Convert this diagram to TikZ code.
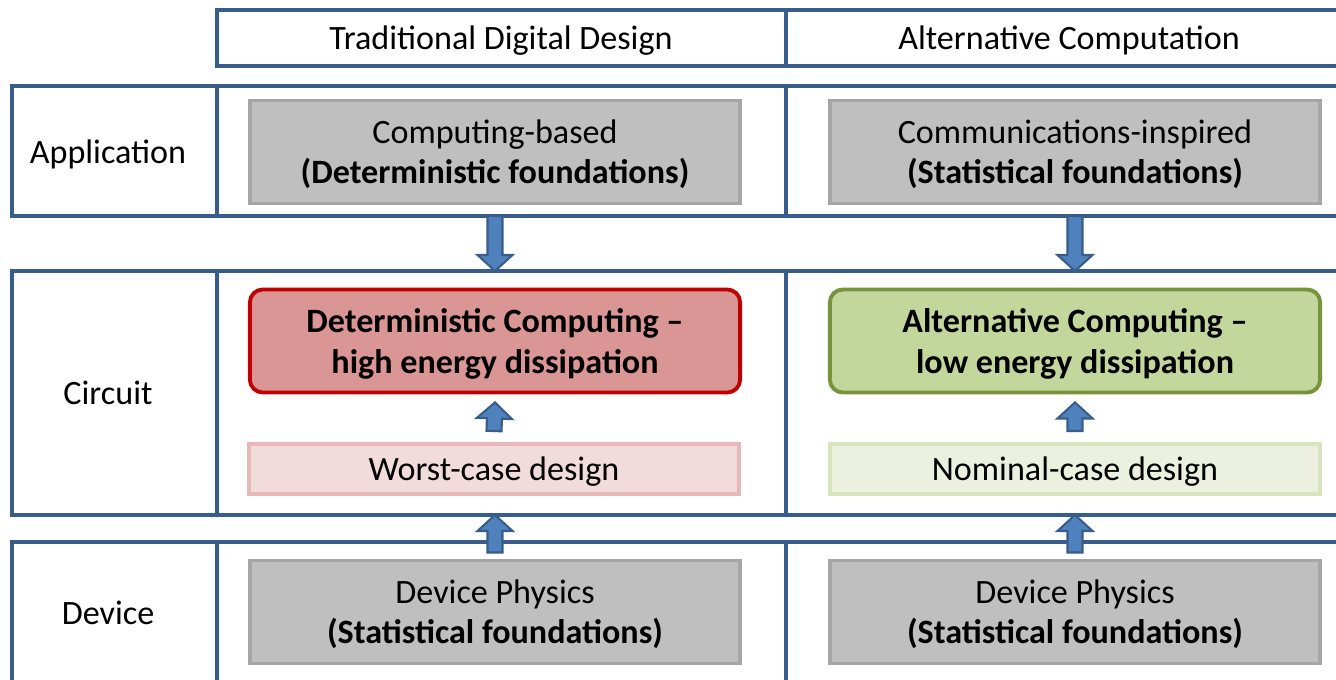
\documentclass[tikz,border=0pt]{standalone}
\usepackage{fontspec}
\setmainfont{Carlito}
\usetikzlibrary{calc}

\definecolor{frameblue}{HTML}{385D8A}
\definecolor{arrowblue}{HTML}{4F81BD}
\definecolor{grayfill}{HTML}{BFBFBF}
\definecolor{grayline}{HTML}{A6A6A6}
\definecolor{redfill}{HTML}{D99694}
\definecolor{redline}{HTML}{C00000}
\definecolor{pinkfill}{HTML}{F2DCDB}
\definecolor{pinkline}{HTML}{E6B9B8}
\definecolor{greenfill}{HTML}{C3D69B}
\definecolor{greenline}{HTML}{77933C}
\definecolor{palefill}{HTML}{EBF1DE}
\definecolor{paleline}{HTML}{D7E4BD}

% block arrow from #1 to #2
\newcommand{\blockarrow}[2]{%
  \coordinate (neck) at ($(#2)!0.16cm!(#1)$);
  \filldraw[blockarrow] ($(#1)!0.075cm!90:(#2)$) -- ($(neck)!0.075cm!90:(#2)$)
    -- ($(neck)!0.175cm!90:(#2)$) -- (#2) -- ($(neck)!0.175cm!-90:(#2)$)
    -- ($(neck)!0.075cm!-90:(#2)$) -- ($(#1)!0.075cm!-90:(#2)$) -- cycle;
}

\begin{document}
\begin{tikzpicture}[x=0.01cm, y=-0.01cm,
    font = \fontsize{9.7}{11.4}\selectfont,
    every node/.append style = {text depth=0pt},
    frame/.style = {draw=frameblue, line width=0.9pt},
    blockarrow/.style = {draw=frameblue, fill=arrowblue, line width=0.6pt},
    box/.style = {minimum width=4.9cm, minimum height=1.03cm, align=center, line width=1.1pt},
    graybox/.style = {box, draw=grayline, fill=grayfill},
    thinbox/.style = {box, minimum height=0.5cm}]
    \clip (0,0) rectangle (1336,680);
    \fill[white] (0,0) rectangle (1336,680);

    \draw[frame] (217,10) rectangle (1352,66);
    \draw[frame] (786,10) -- (786,66);
    \draw[frame] (12,86) rectangle (1352,216);
    \draw[frame] (12,271) rectangle (1352,515);
    \draw[frame] (12,542) rectangle (1352,700);
    \foreach \x in {217,786} {
        \draw[frame] (\x,86) -- (\x,216);
        \draw[frame] (\x,271) -- (\x,515);
        \draw[frame] (\x,542) -- (\x,700);
    }

    \node (tdd) at (501,38) {Traditional Digital Design};
    \node (alt) at (1069,38) {Alternative Computation};

    \node (application) at (108,152) {Application};
    \node (circuit) at (108,393) {Circuit};
    \node (device) at (108,613) {Device};

    \node[graybox] (appL) at (495,152) {Computing-based\\\textbf{(Deterministic foundations)}};
    \node[graybox] (appR) at (1075,152) {Communications-inspired\\\textbf{(Statistical foundations)}};

    \node[box, rounded corners=0.13cm, draw=redline, fill=redfill] (detc) at (495,341)
        {\textbf{Deterministic Computing --}\\\textbf{high energy dissipation}};
    \node[box, rounded corners=0.13cm, draw=greenline, fill=greenfill] (altc) at (1075,341)
        {\textbf{Alternative Computing --}\\\textbf{low energy dissipation}};

    \node[thinbox, draw=pinkline, fill=pinkfill] (worst) at (494,469) {Worst-case design};
    \node[thinbox, draw=paleline, fill=palefill] (nominal) at (1075,469) {Nominal-case design};

    \node[graybox] (devL) at (495,612) {Device Physics\\\textbf{(Statistical foundations)}};
    \node[graybox] (devR) at (1075,612) {Device Physics\\\textbf{(Statistical foundations)}};

    \coordinate (appbot) at (0,216);
    \coordinate (cirtop) at (0,271);
    \coordinate (cirbot) at (0,515);

    \blockarrow{appL |- appbot}{appL |- cirtop}
    \blockarrow{appR |- appbot}{appR |- cirtop}
    \blockarrow{$(worst.north)+(0,-11)$}{$(detc.south)+(0,8)$}
    \blockarrow{$(nominal.north)+(0,-11)$}{$(altc.south)+(0,8)$}
    \blockarrow{$(devL.north)+(0,-6)$}{devL |- cirbot}
    \blockarrow{$(devR.north)+(0,-6)$}{devR |- cirbot}
\end{tikzpicture}
\end{document}
